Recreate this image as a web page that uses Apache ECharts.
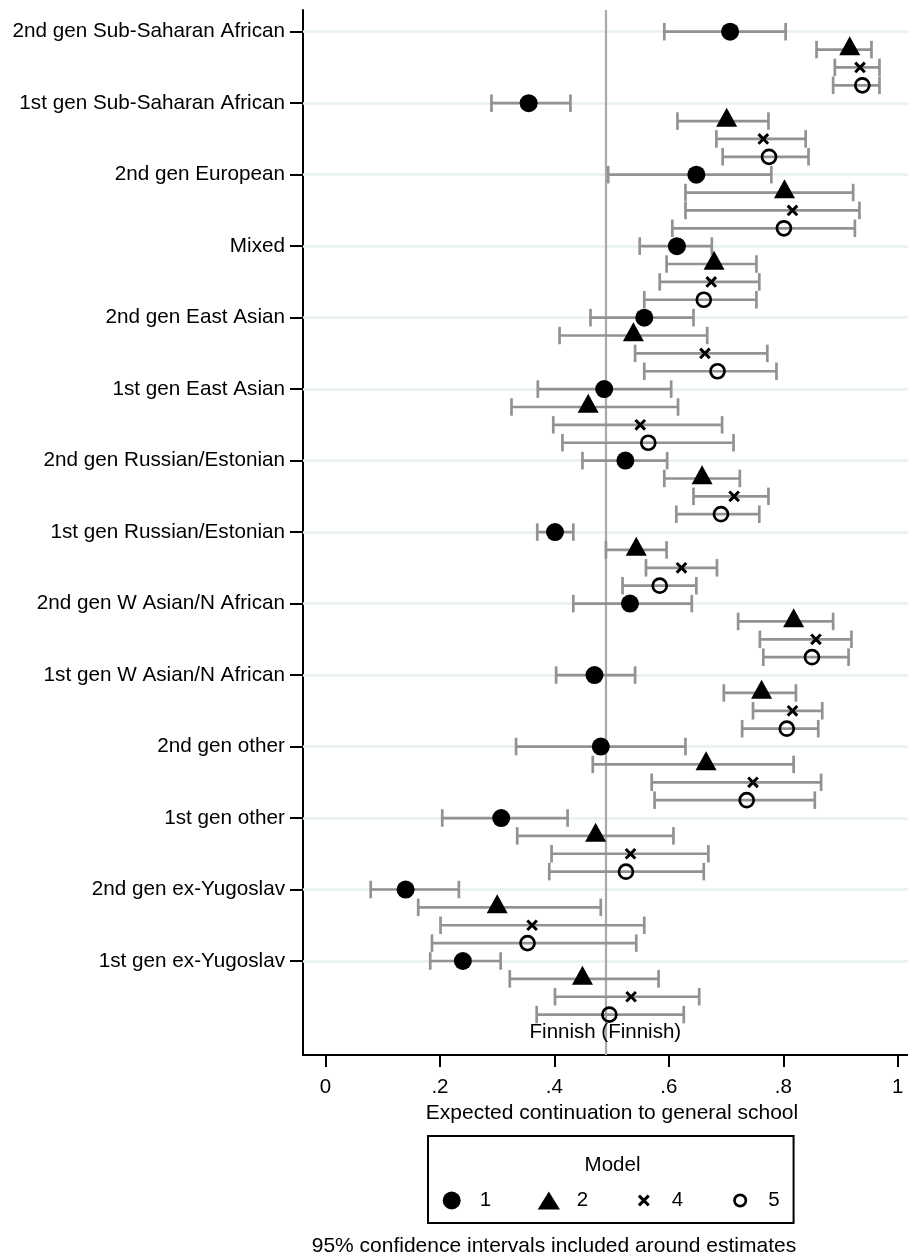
<!DOCTYPE html>
<html>
<head>
<meta charset="utf-8">
<script src="https://cdn.jsdelivr.net/npm/echarts@6/dist/echarts.min.js"></script>
<style>
html,body{margin:0;padding:0;background:#fff;}
#chart{width:908px;height:1260px;}
</style>
</head>
<body>
<div id="chart"></div>
<script>
// ---------------- data ----------------
const categories = [
  '2nd gen Sub-Saharan African',
  '1st gen Sub-Saharan African',
  '2nd gen European',
  'Mixed',
  '2nd gen East Asian',
  '1st gen East Asian',
  '2nd gen Russian/Estonian',
  '1st gen Russian/Estonian',
  '2nd gen W Asian/N African',
  '1st gen W Asian/N African',
  '2nd gen other',
  '1st gen other',
  '2nd gen ex-Yugoslav',
  '1st gen ex-Yugoslav'
];

const model1Est = [0.707, 0.355, 0.648, 0.614, 0.557, 0.487, 0.524, 0.401, 0.532, 0.470, 0.481, 0.307, 0.140, 0.240];
const model1Lo  = [0.592, 0.290, 0.494, 0.549, 0.463, 0.371, 0.449, 0.370, 0.433, 0.403, 0.333, 0.204, 0.079, 0.183];
const model1Hi  = [0.804, 0.428, 0.779, 0.675, 0.643, 0.604, 0.597, 0.433, 0.640, 0.541, 0.629, 0.423, 0.233, 0.306];

const model2Est = [0.916, 0.701, 0.802, 0.679, 0.538, 0.459, 0.658, 0.543, 0.818, 0.762, 0.665, 0.472, 0.300, 0.449];
const model2Lo  = [0.858, 0.615, 0.629, 0.596, 0.409, 0.325, 0.592, 0.490, 0.721, 0.696, 0.467, 0.335, 0.162, 0.322];
const model2Hi  = [0.954, 0.774, 0.922, 0.753, 0.667, 0.616, 0.724, 0.596, 0.887, 0.822, 0.818, 0.608, 0.481, 0.582];

const model4Est = [0.934, 0.765, 0.816, 0.674, 0.663, 0.550, 0.714, 0.622, 0.857, 0.816, 0.747, 0.533, 0.361, 0.534];
const model4Lo  = [0.890, 0.683, 0.629, 0.584, 0.541, 0.398, 0.643, 0.560, 0.759, 0.747, 0.570, 0.395, 0.201, 0.401];
const model4Hi  = [0.968, 0.839, 0.933, 0.758, 0.772, 0.693, 0.774, 0.684, 0.919, 0.868, 0.866, 0.669, 0.557, 0.653];

const model5Est = [0.938, 0.775, 0.801, 0.661, 0.685, 0.564, 0.691, 0.584, 0.850, 0.806, 0.736, 0.525, 0.353, 0.496];
const model5Lo  = [0.887, 0.694, 0.606, 0.557, 0.557, 0.414, 0.613, 0.519, 0.765, 0.728, 0.575, 0.391, 0.186, 0.369];
const model5Hi  = [0.968, 0.844, 0.925, 0.753, 0.788, 0.713, 0.758, 0.648, 0.914, 0.861, 0.855, 0.661, 0.543, 0.626];

const modelNames = ['1', '2', '4', '5'];
const xTickValues = [0, 0.2, 0.4, 0.6, 0.8, 1];
const xTickLabels = ['0', '.2', '.4', '.6', '.8', '1'];
const finnishRef = 0.489;
const refLabel = 'Finnish (Finnish)';
const xTitle = 'Expected continuation to general school';
const legendTitle = 'Model';
const noteText = '95% confidence intervals included around estimates';

// ---------------- styling / layout ----------------
const FONT = '"Liberation Sans", Arial, Helvetica, sans-serif';
const FS = 20.5;
const CI_COLOR = '#929292';
const REF_COLOR = '#a9a9a9';
const GRID_COLOR = '#e8f0f0';
const SLOTS_PER_GROUP = 4;

const X_PATH = 'path://M0,1.8L1.8,0L5,3.2L8.2,0L10,1.8L6.8,5L10,8.2L8.2,10L5,6.8L1.8,10L0,8.2L3.2,5Z';
const X_LEGEND = 'path://M0,0M18,18M3,5.16L5.16,3L9,6.84L12.84,3L15,5.16L11.16,9L15,12.84L12.84,15L9,11.16L5.16,15L3,12.84L6.84,9Z';
const TRI_LEGEND = 'path://M10.5,0L21,17L0,17Z';
const O_LEGEND = 'path://M0,0M18,18M14.7,9A5.7,5.7,0,1,1,3.3,9A5.7,5.7,0,1,1,14.7,9Z';

const models = [
  {name: modelNames[0], est: model1Est, lo: model1Lo, hi: model1Hi,
   symbol: 'circle', size: 18, offset: [0, 0], itemStyle: {color: '#000', opacity: 1}},
  {name: modelNames[1], est: model2Est, lo: model2Lo, hi: model2Hi,
   symbol: 'triangle', size: [21, 19], offset: [0, -3.7], itemStyle: {color: '#000', opacity: 1}},
  {name: modelNames[2], est: model4Est, lo: model4Lo, hi: model4Hi,
   symbol: X_PATH, size: 11.7, offset: [0, 0], itemStyle: {color: '#000', opacity: 1}},
  {name: modelNames[3], est: model5Est, lo: model5Lo, hi: model5Hi,
   symbol: 'circle', size: 14, offset: [0, 0],
   itemStyle: {color: 'rgba(0,0,0,0)', borderColor: '#000', borderWidth: 2.7, opacity: 1}}
];

const groupSlots = categories.map((c, i) => i * SLOTS_PER_GROUP);
const refSlot = categories.length * SLOTS_PER_GROUP;

function ciRender(params, api) {
  const y = api.value(2);
  const a = api.coord([api.value(0), y]);
  const b = api.coord([api.value(1), y]);
  const h = 8.75;
  const style = {stroke: CI_COLOR, lineWidth: 2.7, fill: null};
  return {
    type: 'group',
    children: [
      {type: 'line', shape: {x1: a[0], y1: a[1], x2: b[0], y2: b[1]}, style: style},
      {type: 'line', shape: {x1: a[0], y1: a[1] - h, x2: a[0], y2: a[1] + h}, style: style},
      {type: 'line', shape: {x1: b[0], y1: b[1] - h, x2: b[0], y2: b[1] + h}, style: style}
    ]
  };
}

const series = [];
models.forEach((m, j) => {
  const s = {
    type: 'custom',
    name: 'ci' + m.name,
    renderItem: ciRender,
    data: m.est.map((v, i) => [m.lo[i], m.hi[i], i * SLOTS_PER_GROUP + j]),
    encode: {x: [0, 1], y: 2},
    z: 2,
    silent: true,
    animation: false
  };
  if (j === 0) {
    s.markLine = {
      z: 1, silent: true, animation: false, symbol: ['none', 'none'],
      label: {show: false},
      lineStyle: {color: GRID_COLOR, width: 2.5, type: 'solid', opacity: 1},
      data: groupSlots.map(v => ({yAxis: v}))
    };
  }
  if (j === 1) {
    s.markLine = {
      z: 1, silent: true, animation: false, symbol: ['none', 'none'],
      label: {show: false},
      lineStyle: {color: REF_COLOR, width: 2.2, type: 'solid', opacity: 1},
      data: [{xAxis: finnishRef}]
    };
  }
  series.push(s);
});
models.forEach((m, j) => {
  series.push({
    type: 'scatter',
    name: m.name,
    data: m.est.map((v, i) => [v, i * SLOTS_PER_GROUP + j]),
    symbol: m.symbol,
    symbolSize: m.size,
    symbolOffset: m.offset,
    itemStyle: m.itemStyle,
    z: 3,
    silent: true,
    animation: false
  });
});
series.push({
  type: 'scatter',
  name: 'ref',
  data: [[finnishRef, refSlot]],
  symbolSize: 1,
  itemStyle: {color: 'rgba(0,0,0,0)', opacity: 1},
  label: {show: true, position: 'inside', formatter: refLabel,
          fontFamily: FONT, fontSize: FS, color: '#000', opacity: 1},
  z: 4, silent: true, animation: false
});

const option = {
  backgroundColor: '#fff',
  animation: false,
  textStyle: {fontFamily: FONT},
  grid: {left: 303, top: 10, right: -13, bottom: 205, containLabel: false, outerBoundsMode: 'none'},
  xAxis: {
    type: 'value',
    min: -0.03931, max: 1.04054,
    axisLine: {show: true, onZero: false, lineStyle: {color: '#000', width: 2}},
    axisTick: {show: true, inside: false, length: 12, lineStyle: {color: '#000', width: 2}, customValues: xTickValues},
    axisLabel: {
      show: true, margin: 22, customValues: xTickValues,
      fontFamily: FONT, fontSize: FS, color: '#000',
      formatter: function (v) {
        for (let k = 0; k < xTickValues.length; k++) {
          if (Math.abs(xTickValues[k] - v) < 1e-9) return xTickLabels[k];
        }
        return '';
      }
    },
    splitLine: {show: false},
    name: xTitle, nameLocation: 'middle', nameGap: 41,
    nameTextStyle: {fontFamily: FONT, fontSize: 21, color: '#000'}
  },
  yAxis: {
    type: 'value',
    inverse: true,
    min: -1.214, max: 57.26,
    axisLine: {show: true, onZero: false, lineStyle: {color: '#000', width: 2}},
    axisTick: {show: true, inside: false, length: 13, lineStyle: {color: '#000', width: 2}, customValues: groupSlots},
    axisLabel: {
      show: true, margin: 18, customValues: groupSlots,
      fontFamily: FONT, fontSize: 20.7, color: '#000',
      formatter: function (v) { return categories[Math.round(v / SLOTS_PER_GROUP)] || ''; }
    },
    splitLine: {show: false}
  },
  legend: {
    data: [
      {name: modelNames[0]},
      {name: modelNames[1], icon: TRI_LEGEND},
      {name: modelNames[2], icon: X_LEGEND},
      {name: modelNames[3], icon: O_LEGEND, itemStyle: {borderWidth: 2.7, borderColor: '#000', color: 'rgba(0,0,0,0)'}}
    ],
    left: 428, top: 1136,
    orient: 'horizontal',
    itemWidth: 46, itemHeight: 18, itemGap: 46.6,
    padding: [54, 14, 12, 14.7],
    borderColor: '#000', borderWidth: 2, borderRadius: 0,
    backgroundColor: '#fff',
    selectedMode: false,
    itemStyle: {opacity: 1},
    textStyle: {fontFamily: FONT, fontSize: FS, color: '#000'}
  },
  title: [
    {text: legendTitle, left: 579.6, top: 1149.75,
     textStyle: {fontFamily: FONT, fontSize: FS, fontWeight: 'normal', color: '#000'}},
    {text: noteText, left: 306.7, top: 1230.5,
     textStyle: {fontFamily: FONT, fontSize: 21, fontWeight: 'normal', color: '#000'}}
  ],
  series: series
};

const chart = echarts.init(document.getElementById('chart'), null, {renderer: 'canvas'});
chart.setOption(option);
</script>
</body>
</html>
